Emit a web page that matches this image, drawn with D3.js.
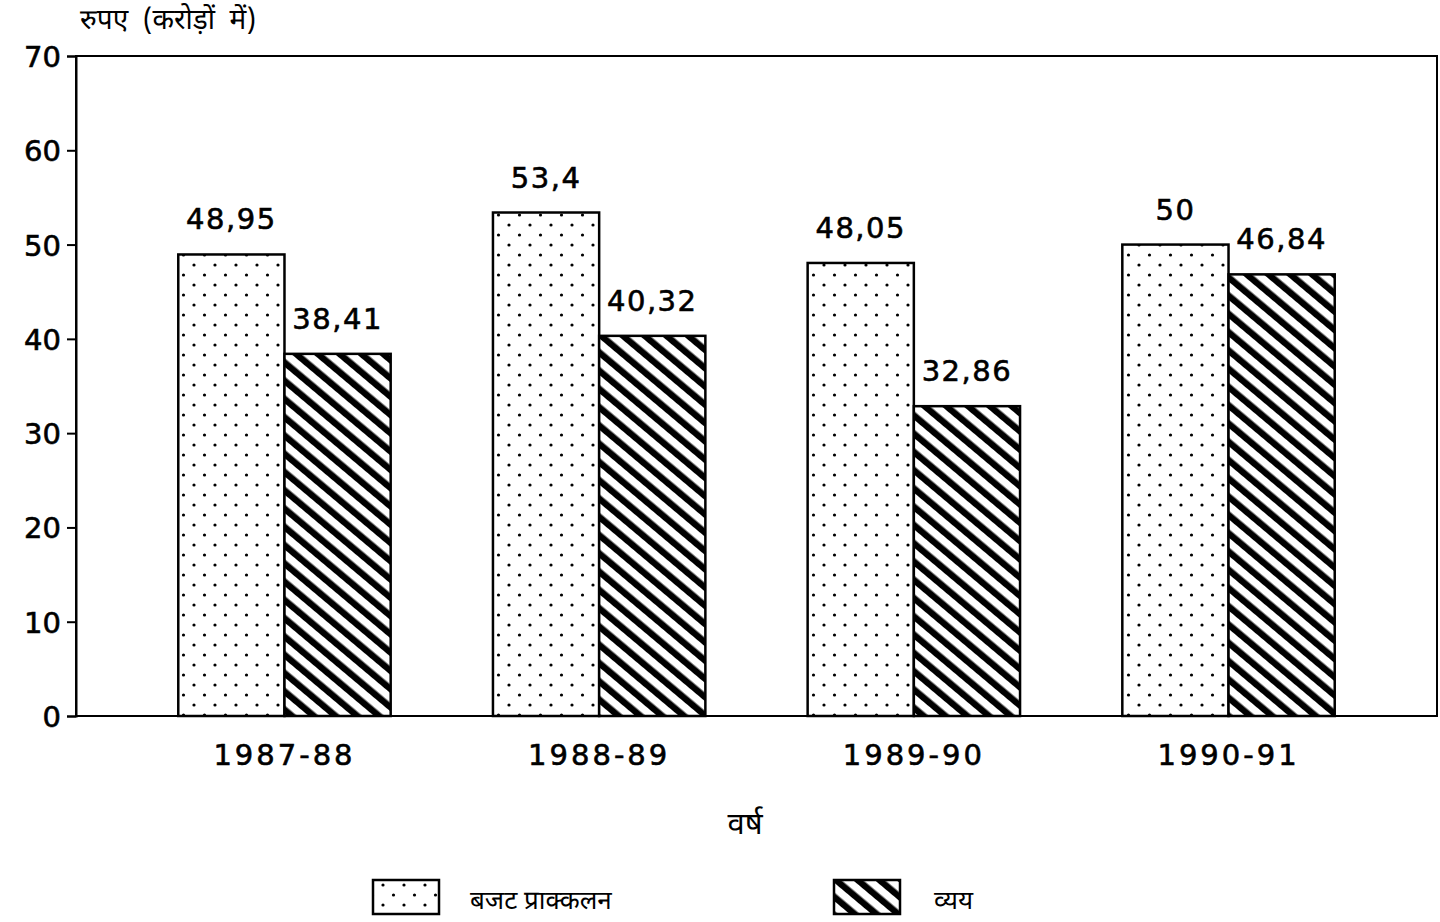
<!DOCTYPE html>
<html>
<head>
<meta charset="utf-8">
<script src="https://cdn.jsdelivr.net/npm/d3@7"></script>
<style>
  html, body { margin: 0; padding: 0; background: #fff; }
  svg { display: block; }
  .num { font-family: "DejaVu Sans", "Liberation Sans", sans-serif; stroke: #000; stroke-width: 0.6px; }
  .hin { font-family: "Noto Sans Devanagari", "Noto Sans", "Lohit Devanagari", sans-serif; }
</style>
</head>
<body>
<svg id="chart" width="1440" height="922"></svg>
<script>
// Years, and two series: budget estimate and actual expenditure (Rs. crore)
const years = ["1987-88", "1988-89", "1989-90", "1990-91"];
const budget = [48.95, 53.4, 48.05, 50];
const expense = [38.41, 40.32, 32.86, 46.84];
const yTicks = [0, 10, 20, 30, 40, 50, 60, 70];
const seriesNames = ["बजट प्राक्कलन", "व्यय"];

const svg = d3.select("#chart");
const margin = { left: 76, right: 1437, top: 56, bottom: 716 };

const defs = svg.append("defs");
// dotted fill
const dots = defs.append("pattern").attr("id", "dots")
  .attr("patternUnits", "userSpaceOnUse").attr("width", 21).attr("height", 20);
dots.append("rect").attr("width", 21).attr("height", 20).attr("fill", "#fff");
dots.append("circle").attr("cx", 5).attr("cy", 5).attr("r", 1.6).attr("fill", "#000");
dots.append("circle").attr("cx", 15.5).attr("cy", 15).attr("r", 1.6).attr("fill", "#000");
// diagonal hatch fill (top-left to bottom-right)
const hatch = defs.append("pattern").attr("id", "hatch")
  .attr("patternUnits", "userSpaceOnUse").attr("width", 14).attr("height", 14)
  .attr("patternTransform", "rotate(-50)");
hatch.append("rect").attr("width", 14).attr("height", 14).attr("fill", "#fff");
hatch.append("rect").attr("x", 0).attr("width", 6.5).attr("height", 14).attr("fill", "#000");

const x = d3.scaleBand().domain(years).range([margin.left, margin.right])
  .paddingInner(0.325).paddingOuter(0.325);
const xs = d3.scaleBand().domain([0, 1]).range([0, x.bandwidth()]);
const y = d3.scaleLinear().domain([0, 70]).range([margin.bottom, margin.top]);

// plot frame
svg.append("rect")
  .attr("x", margin.left).attr("y", margin.top)
  .attr("width", margin.right - margin.left).attr("height", margin.bottom - margin.top)
  .attr("fill", "none").attr("stroke", "#000").attr("stroke-width", 2);

// y axis
const yAxis = svg.append("g").attr("transform", `translate(${margin.left},0)`)
  .call(d3.axisLeft(y).tickValues(yTicks).tickSize(9).tickPadding(6).tickFormat(d3.format("d")));
yAxis.select(".domain").attr("stroke-width", 2);
yAxis.selectAll(".tick line").attr("stroke-width", 2);
yAxis.selectAll("text").attr("class", "num").attr("font-size", 29).attr("fill", "#000")
  .attr("dy", "0.36em");

// x axis labels
const xAxis = svg.append("g").attr("transform", `translate(0,${margin.bottom})`)
  .call(d3.axisBottom(x).tickSize(0).tickPadding(28));
xAxis.select(".domain").remove();
xAxis.selectAll("text").attr("class", "num").attr("font-size", 29).attr("fill", "#000")
  .attr("letter-spacing", 3);

const fmt = v => String(v).replace(".", ",");
const series = [budget, expense];
const fills = ["url(#dots)", "url(#hatch)"];

series.forEach((vals, si) => {
  const g = svg.append("g");
  g.selectAll("rect").data(vals).join("rect")
    .attr("x", (d, i) => x(years[i]) + xs(si))
    .attr("width", xs.bandwidth())
    .attr("y", d => y(d))
    .attr("height", d => y(0) - y(d))
    .attr("fill", fills[si]).attr("stroke", "#000").attr("stroke-width", 2.5);
  g.selectAll("text").data(vals).join("text")
    .attr("class", "num")
    .attr("x", (d, i) => x(years[i]) + xs(si) + xs.bandwidth() / 2)
    .attr("y", d => y(d) - 25)
    .attr("text-anchor", "middle").attr("font-size", 29).attr("letter-spacing", 1.5)
    .text(d => fmt(d));
});

// axis titles
svg.append("text").attr("class", "hin").attr("x", 80).attr("y", 29)
  .attr("font-size", 28).attr("xml:space", "preserve").text("रुपए  (करोड़ों  में)");
svg.append("text").attr("class", "hin").attr("x", 745).attr("y", 834)
  .attr("text-anchor", "middle").attr("font-size", 31).text("वर्ष");

// legend
const legend = [
  { x: 373, tx: 470 },
  { x: 834, tx: 934 }
];
legend.forEach((l, i) => {
  svg.append("rect").attr("x", l.x).attr("y", 880).attr("width", 66).attr("height", 34)
    .attr("fill", fills[i]).attr("stroke", "#000").attr("stroke-width", 2.5);
  svg.append("text").attr("class", "hin").attr("x", l.tx).attr("y", 909)
    .attr("font-size", 26).text(seriesNames[i]);
});
</script>
</body>
</html>
